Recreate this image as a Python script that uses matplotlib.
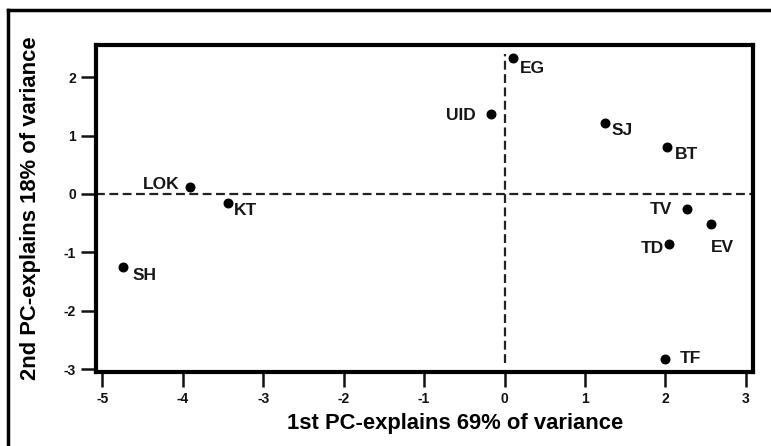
import matplotlib
matplotlib.use('Agg')

import matplotlib.pyplot as plt
from matplotlib.lines import Line2D

plt.rcParams['font.family'] = ['Liberation Sans', 'DejaVu Sans']

# PCA scores
labels = ['EG', 'UID', 'SJ', 'BT', 'TV', 'EV', 'TD', 'TF', 'LOK', 'KT', 'SH']
pc1 = [0.11, -0.17, 1.25, 2.02, 2.27, 2.57, 2.04, 1.99, -3.91, -3.44, -4.75]
pc2 = [2.33, 1.36, 1.21, 0.80, -0.25, -0.52, -0.86, -2.82, 0.12, -0.16, -1.25]

x_ticks = [-5, -4, -3, -2, -1, 0, 1, 2, 3]
y_ticks = [-3, -2, -1, 0, 1, 2]

# label placement: (dx px, dy px, ha, va)
label_pos = {
    'EG': (7, -3, 'left', 'top'),
    'UID': (-15, -1, 'right', 'center'),
    'SJ': (7, 0, 'left', 'top'),
    'BT': (8, 0, 'left', 'top'),
    'TV': (-15, -1, 'right', 'center'),
    'EV': (0, -16, 'left', 'top'),
    'TD': (-5, -4, 'right', 'center'),
    'TF': (15, 0, 'left', 'center'),
    'LOK': (-11, 2, 'right', 'center'),
    'KT': (6, 0, 'left', 'top'),
    'SH': (10, -1, 'left', 'top'),
}

fig = plt.figure(figsize=(7.71, 4.46), dpi=100)
fig.patch.set_facecolor('white')
ax = fig.add_axes([96 / 771, 1 - 372 / 446, (753 - 96) / 771, (372 - 45) / 446])

# outer frame (only top and left visible in the reference)
fig.add_artist(Line2D([8 / 771, 1.0], [1 - 9.5 / 446, 1 - 9.5 / 446],
                      transform=fig.transFigure, color='black', linewidth=2.5))
fig.add_artist(Line2D([8 / 771, 8 / 771], [0.0, 1 - 9.5 / 446],
                      transform=fig.transFigure, color='black', linewidth=2.5))

ax.axhline(0, color='#222222', linewidth=1.6, linestyle=(0, (4, 2)), zorder=1)
ax.axvline(0, ymin=(-2.9 + 3.05) / 5.6, ymax=(2.4 + 3.05) / 5.6,
           color='#222222', linewidth=1.6, linestyle=(0, (4, 2)), zorder=1)

ax.scatter(pc1, pc2, s=38, color='black', zorder=3)

for name, x, y in zip(labels, pc1, pc2):
    dx, dy, ha, va = label_pos[name]
    ax.annotate(name, (x, y), xytext=(dx, dy), textcoords='offset pixels',
                ha=ha, va=va, fontsize=12.5, fontweight='bold', color='#161616')

ax.set_xlim(-5.08, 3.09)
ax.set_ylim(-3.05, 2.55)
ax.set_xticks(x_ticks)
ax.set_yticks(y_ticks)
ax.set_xticklabels([str(t) for t in x_ticks], fontweight='bold', fontsize=10)
ax.set_yticklabels([str(t) for t in y_ticks], fontweight='bold', fontsize=10)
ax.tick_params(length=10.5, width=1.8, pad=4, colors='#111111')

for sp in ax.spines.values():
    sp.set_linewidth(3)
    sp.set_color('black')

ax.set_xlabel('1st PC-explains 69% of variance', fontsize=15.8, fontweight='bold')
ax.xaxis.set_label_coords((455 - 96) / (753 - 96), -(413 - 372) / (372 - 45))
ax.xaxis.label.set_va('top')
ax.set_ylabel('2nd PC-explains 18% of variance', fontsize=15.8, fontweight='bold')
ax.yaxis.set_label_coords(-(96 - 41) / (753 - 96), 0.5)

fig.savefig('out.png', dpi=100, facecolor='white')
